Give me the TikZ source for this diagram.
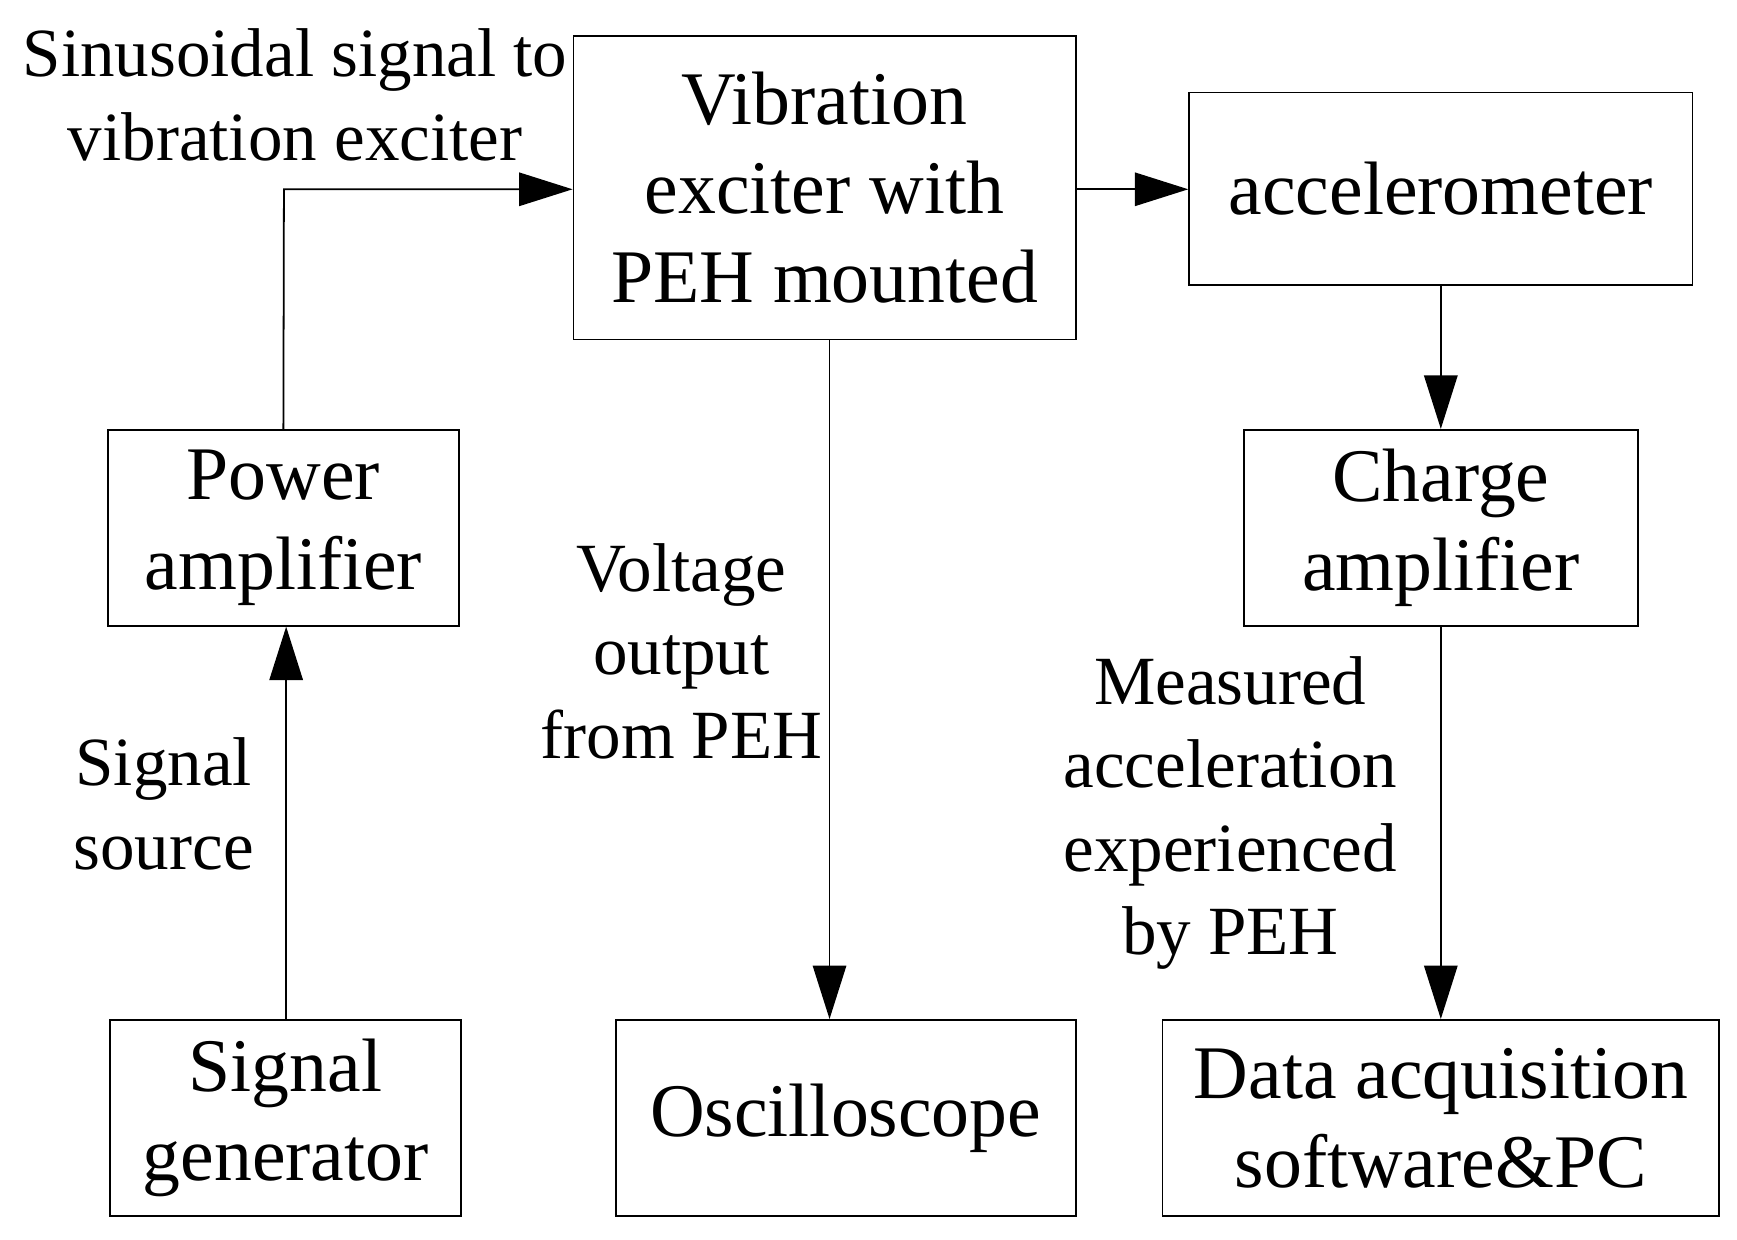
\documentclass[tikz,border=0pt]{standalone}
\usepackage{fontspec}
\setmainfont{Liberation Serif}
\usetikzlibrary{arrows.meta}
\begin{document}
\begin{tikzpicture}[x=0.5pt,y=-0.5pt,
  box/.style={draw,line width=0.8pt,inner sep=0pt,align=center,font=\fontsize{34}{40}\selectfont},
  lbl/.style={align=center,inner sep=0pt,font=\fontsize{31}{37.5}\selectfont},
  arr/.style={line width=0.8pt,-{Triangle[length=24pt,width=15pt]}}]
\useasboundingbox (0,0) rectangle (1560,1113);
\node[box,minimum width=225.5pt,minimum height=136.5pt] (vib) at (740.5,168.5) {Vibration\\exciter with\\PEH mounted};
\node[box,minimum width=226pt,minimum height=86.5pt] (acc) at (1294,169.5) {accelerometer};
\node[box,minimum width=157.5pt,minimum height=88pt] (pow) at (254.5,474) {Power\\amplifier};
\node[box,minimum width=177pt,minimum height=88pt] (chg) at (1294,474) {Charge\\amplifier};
\node[box,minimum width=157.5pt,minimum height=88pt] (sig) at (256.5,1004) {Signal\\generator};
\node[box,minimum width=206.5pt,minimum height=88pt] (osc) at (759.5,1004) {Oscilloscope};
\node[box,minimum width=250pt,minimum height=88pt] (daq) at (1294,1004) {Data acquisition\\software\&PC};
\coordinate (c1) at (255,170);
\draw[arr] (sig.north -| 257,0) -- (pow.south -| 257,0);
\draw[arr] (pow.north) -- (c1) -- (vib.west |- c1);
\draw[arr] (vib.east |- c1) -- (acc.west |- c1);
\draw[arr] (acc.south) -- (chg.north);
\draw[arr] (chg.south) -- (daq.north);
\draw[arr] (vib.south -| 745,0) -- (osc.north -| 745,0);
\node[lbl] (l1) at (265,85) {Sinusoidal signal to\\vibration exciter};
\node[lbl] (l2) at (147,722) {Signal\\source};
\node[lbl] (l3) at (612,585) {Voltage\\output\\from PEH};
\node[lbl] (l4) at (1105,730) {Measured\\acceleration\\experienced\\by PEH};
\end{tikzpicture}
\end{document}
